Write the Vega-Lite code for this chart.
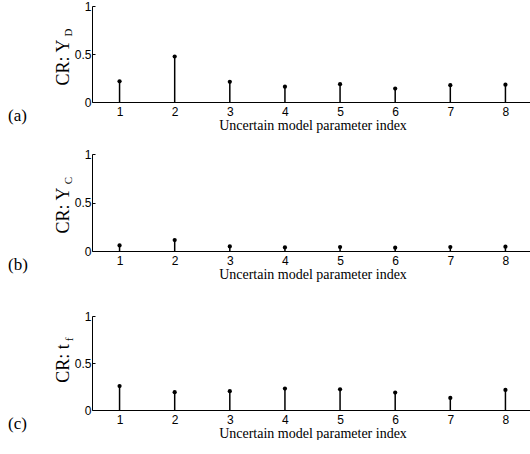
{
  "$schema": "https://vega.github.io/schema/vega-lite/v6.json",
  "padding": {"left": 8, "top": 0, "right": 0, "bottom": 0},
  "background": "white",
  "spacing": 29,
  "config": {
    "view": {"stroke": null},
    "axis": {"grid": false, "domainColor": "black", "tickColor": "black", "labelColor": "black", "titleColor": "black", "labelFont": "Liberation Sans", "labelFontSize": 12, "titleFont": "Liberation Serif", "titleFontWeight": "normal"},
    "title": {"font": "Liberation Serif", "fontSize": 17, "fontWeight": "normal", "color": "black", "orient": "bottom", "anchor": "start", "frame": "bounds", "dx": -46, "offset": -24}
  },
  "datasets": {
    "a": [{"i": 1, "v": 0.216}, {"i": 2, "v": 0.474}, {"i": 3, "v": 0.21}, {"i": 4, "v": 0.16}, {"i": 5, "v": 0.185}, {"i": 6, "v": 0.14}, {"i": 7, "v": 0.175}, {"i": 8, "v": 0.18}],
    "b": [{"i": 1, "v": 0.057}, {"i": 2, "v": 0.113}, {"i": 3, "v": 0.047}, {"i": 4, "v": 0.037}, {"i": 5, "v": 0.041}, {"i": 6, "v": 0.034}, {"i": 7, "v": 0.041}, {"i": 8, "v": 0.044}],
    "c": [{"i": 1, "v": 0.255}, {"i": 2, "v": 0.19}, {"i": 3, "v": 0.2}, {"i": 4, "v": 0.228}, {"i": 5, "v": 0.22}, {"i": 6, "v": 0.186}, {"i": 7, "v": 0.128}, {"i": 8, "v": 0.213}]
  },
  "vconcat": [
    {
      "spacing": 16,
      "vconcat": [
        {
          "width": 441, "height": 96,
          "data": {"name": "a"},
          "title": {"text": "(a)"},
          "layer": [
            {
              "mark": {"type": "rule", "color": "black", "strokeWidth": 1.5},
              "encoding": {
                "x": {"field": "i", "type": "quantitative", "scale": {"domain": [0.5, 8.5], "nice": false}, "axis": {"values": [1, 2, 3, 4, 5, 6, 7, 8], "format": "d", "ticks": false, "labelPadding": 4, "title": "Uncertain model parameter index", "titleFontSize": 14, "titlePadding": 1}},
                "y": {"field": "v", "type": "quantitative", "scale": {"domain": [0, 1], "nice": false}, "axis": {"values": [0, 0.5, 1], "format": "~g", "tickSize": -3, "labelPadding": 4, "title": "CR: Y", "titleFontSize": 18, "titleAngle": 270, "titleAlign": "center", "titleBaseline": "alphabetic", "titleX": -24, "titleY": 56}},
                "y2": {"datum": 0}
              }
            },
            {
              "mark": {"type": "circle", "color": "black", "opacity": 1, "size": 18},
              "encoding": {
                "x": {"field": "i", "type": "quantitative"},
                "y": {"field": "v", "type": "quantitative", "scale": {"domain": [0, 1], "nice": false}, "axis": {"orient": "left", "labels": false, "ticks": false, "domain": false, "title": "D", "titleFont": "Liberation Serif", "titleFontSize": 11, "titleAngle": 270, "titleAlign": "center", "titleBaseline": "alphabetic", "titleX": -21, "titleY": 26}}
              }
            }
          ],
          "resolve": {"scale": {"y": "independent"}, "axis": {"y": "independent"}}
        },
        {
          "width": 441, "height": 97,
          "data": {"name": "b"},
          "title": {"text": "(b)"},
          "layer": [
            {
              "mark": {"type": "rule", "color": "black", "strokeWidth": 1.5},
              "encoding": {
                "x": {"field": "i", "type": "quantitative", "scale": {"domain": [0.5, 8.5], "nice": false}, "axis": {"values": [1, 2, 3, 4, 5, 6, 7, 8], "format": "d", "ticks": false, "labelPadding": 4, "title": "Uncertain model parameter index", "titleFontSize": 14, "titlePadding": 1}},
                "y": {"field": "v", "type": "quantitative", "scale": {"domain": [0, 1], "nice": false}, "axis": {"values": [0, 0.5, 1], "format": "~g", "tickSize": -3, "labelPadding": 4, "title": "CR: Y", "titleFontSize": 18, "titleAngle": 270, "titleAlign": "center", "titleBaseline": "alphabetic", "titleX": -24, "titleY": 56}},
                "y2": {"datum": 0}
              }
            },
            {
              "mark": {"type": "circle", "color": "black", "opacity": 1, "size": 18},
              "encoding": {
                "x": {"field": "i", "type": "quantitative"},
                "y": {"field": "v", "type": "quantitative", "scale": {"domain": [0, 1], "nice": false}, "axis": {"orient": "left", "labels": false, "ticks": false, "domain": false, "title": "C", "titleFont": "Liberation Serif", "titleFontSize": 11, "titleAngle": 270, "titleAlign": "center", "titleBaseline": "alphabetic", "titleX": -21, "titleY": 26}}
              }
            }
          ],
          "resolve": {"scale": {"y": "independent"}, "axis": {"y": "independent"}}
        }
      ]
    },
    {
      "width": 441, "height": 94,
      "data": {"name": "c"},
      "title": {"text": "(c)"},
      "layer": [
        {
          "mark": {"type": "rule", "color": "black", "strokeWidth": 1.5},
          "encoding": {
            "x": {"field": "i", "type": "quantitative", "scale": {"domain": [0.5, 8.5], "nice": false}, "axis": {"values": [1, 2, 3, 4, 5, 6, 7, 8], "format": "d", "ticks": false, "labelPadding": 4, "title": "Uncertain model parameter index", "titleFontSize": 14, "titlePadding": 1}},
            "y": {"field": "v", "type": "quantitative", "scale": {"domain": [0, 1], "nice": false}, "axis": {"values": [0, 0.5, 1], "format": "~g", "tickSize": -3, "labelPadding": 4, "title": "CR: t", "titleFontSize": 18, "titleAngle": 270, "titleAlign": "center", "titleBaseline": "alphabetic", "titleX": -24, "titleY": 47}},
            "y2": {"datum": 0}
          }
        },
        {
          "mark": {"type": "circle", "color": "black", "opacity": 1, "size": 18},
          "encoding": {
            "x": {"field": "i", "type": "quantitative"},
            "y": {"field": "v", "type": "quantitative", "scale": {"domain": [0, 1], "nice": false}, "axis": {"orient": "left", "labels": false, "ticks": false, "domain": false, "title": "f", "titleFont": "Liberation Serif", "titleFontSize": 11, "titleAngle": 270, "titleAlign": "center", "titleBaseline": "alphabetic", "titleX": -20, "titleY": 23}}
          }
        }
      ],
      "resolve": {"scale": {"y": "independent"}, "axis": {"y": "independent"}}
    }
  ]
}
